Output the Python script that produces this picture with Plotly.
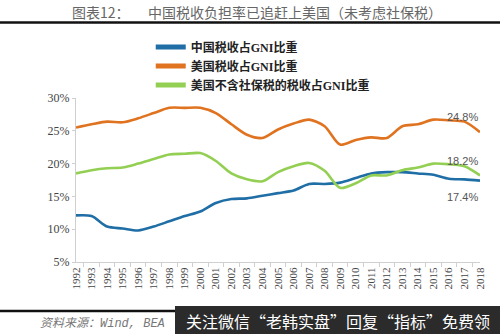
import plotly.graph_objects as go

years = [str(y) for y in range(1992, 2019)]
china = [12.1, 12.0, 10.4, 10.1, 9.8, 10.4, 11.2, 12.0, 12.7, 14.0, 14.6, 14.7, 15.1, 15.5, 15.9,
         16.9, 16.9, 17.1, 17.8, 18.5, 18.7, 18.7, 18.5, 18.3, 17.7, 17.6, 17.4]
usa = [25.5, 26.0, 26.4, 26.3, 26.9, 27.7, 28.5, 28.5, 28.5, 27.7, 26.0, 24.4, 23.9, 25.2, 26.1,
       26.7, 25.7, 22.9, 23.6, 24.0, 23.9, 25.7, 26.0, 26.7, 26.6, 26.4, 24.8]
usa_ex = [18.5, 19.0, 19.3, 19.4, 20.0, 20.7, 21.4, 21.5, 21.6, 20.4, 18.5, 17.6, 17.3, 18.7, 19.6,
          20.1, 18.9, 16.3, 17.0, 18.2, 18.2, 19.0, 19.4, 20.0, 19.9, 19.6, 18.2]
names = ["中国税收占GNI比重", "美国税收占GNI比重", "美国不含社保税的税收占GNI比重"]
colors = ["#1F6EA6", "#E07320", "#92CF52"]
end_labels = ["17.4%", "24.8%", "18.2%"]

fig = go.Figure()
for name, vals, c in zip(names, [china, usa, usa_ex], colors):
    fig.add_trace(go.Scatter(x=years, y=vals, name=name, mode="lines",
                             line=dict(color=c, width=2.6, shape="spline", smoothing=0.8)))

shifts = [-16, 15, 14]
for vals, lab, s in zip([china, usa, usa_ex], end_labels, shifts):
    fig.add_annotation(x=1.0, xref="paper", y=vals[-1], yref="y", yshift=s, text=lab,
                       showarrow=False, xanchor="right", yanchor="middle",
                       font=dict(family="Liberation Sans", size=11, color="#555"))

fig.update_layout(
    width=500, height=334,
    margin=dict(l=76, r=20, t=98, b=72),
    paper_bgcolor="white", plot_bgcolor="white",
    showlegend=True,
    legend=dict(x=0.185, y=1.40, xanchor="left", yanchor="top", bgcolor="rgba(255,255,255,0)",
                font=dict(family="Liberation Serif, Noto Sans CJK SC", size=12, color="#222",
                          weight="bold"),
                tracegroupgap=0, itemwidth=30, itemsizing="constant"),
    xaxis=dict(type="category", tickangle=-90, showline=True, linecolor="#cfcfcf", linewidth=1,
               ticks="outside", tickson="boundaries", ticklen=4, tickcolor="#cfcfcf",
               tickfont=dict(family="Liberation Serif", size=11, color="#444"),
               showgrid=False, zeroline=False),
    yaxis=dict(range=[5, 30], tickvals=[5, 10, 15, 20, 25, 30],
               ticktext=["5%", "10%", "15%", "20%", "25%", "30%"],
               showline=True, linecolor="#cfcfcf", linewidth=1, ticks="outside", ticklen=3,
               tickcolor="#cfcfcf", showgrid=False, zeroline=False,
               tickfont=dict(family="Liberation Serif", size=12, color="#444")),
)

def px_x(p):
    return (p - 76) / 404.0

def px_y(p):
    return (262 - p) / 164.0

fig.add_annotation(x=px_x(70), y=px_y(12), xref="paper", yref="paper", xanchor="left", yanchor="middle",
                   text="图表12：", showarrow=False,
                   font=dict(family="Noto Sans CJK SC", size=14, color="#666"))
fig.add_annotation(x=px_x(146), y=px_y(12), xref="paper", yref="paper", xanchor="left", yanchor="middle",
                   text="中国税收负担率已追赶上美国（未考虑社保税）", showarrow=False,
                   font=dict(family="Noto Sans CJK SC", size=14, color="#666"))
fig.add_shape(type="line", xref="paper", yref="paper", x0=px_x(0), x1=px_x(500),
              y0=px_y(22.5), y1=px_y(22.5), line=dict(color="#111", width=2.5))
fig.add_shape(type="line", xref="paper", yref="paper", x0=px_x(0), x1=px_x(500),
              y0=px_y(311), y1=px_y(311), line=dict(color="#111", width=2.5))
fig.add_annotation(x=px_x(38), y=px_y(323), xref="paper", yref="paper", xanchor="left", yanchor="middle",
                   text="<i>资料来源：Wind, BEA</i>", showarrow=False,
                   font=dict(family="Liberation Mono, Noto Sans CJK SC", size=12, color="#777"))
fig.add_shape(type="rect", xref="paper", yref="paper", x0=px_x(175), x1=px_x(500),
              y0=px_y(306), y1=px_y(334), fillcolor="#2b2b2b", line=dict(width=0))
fig.add_annotation(x=px_x(184), y=px_y(321), xref="paper", yref="paper", xanchor="left", yanchor="middle",
                   text="关注微信“老韩实盘”回复“指标”免费领", showarrow=False,
                   font=dict(family="Noto Sans CJK SC", size=16, color="white"))

fig.write_html("out.html")
